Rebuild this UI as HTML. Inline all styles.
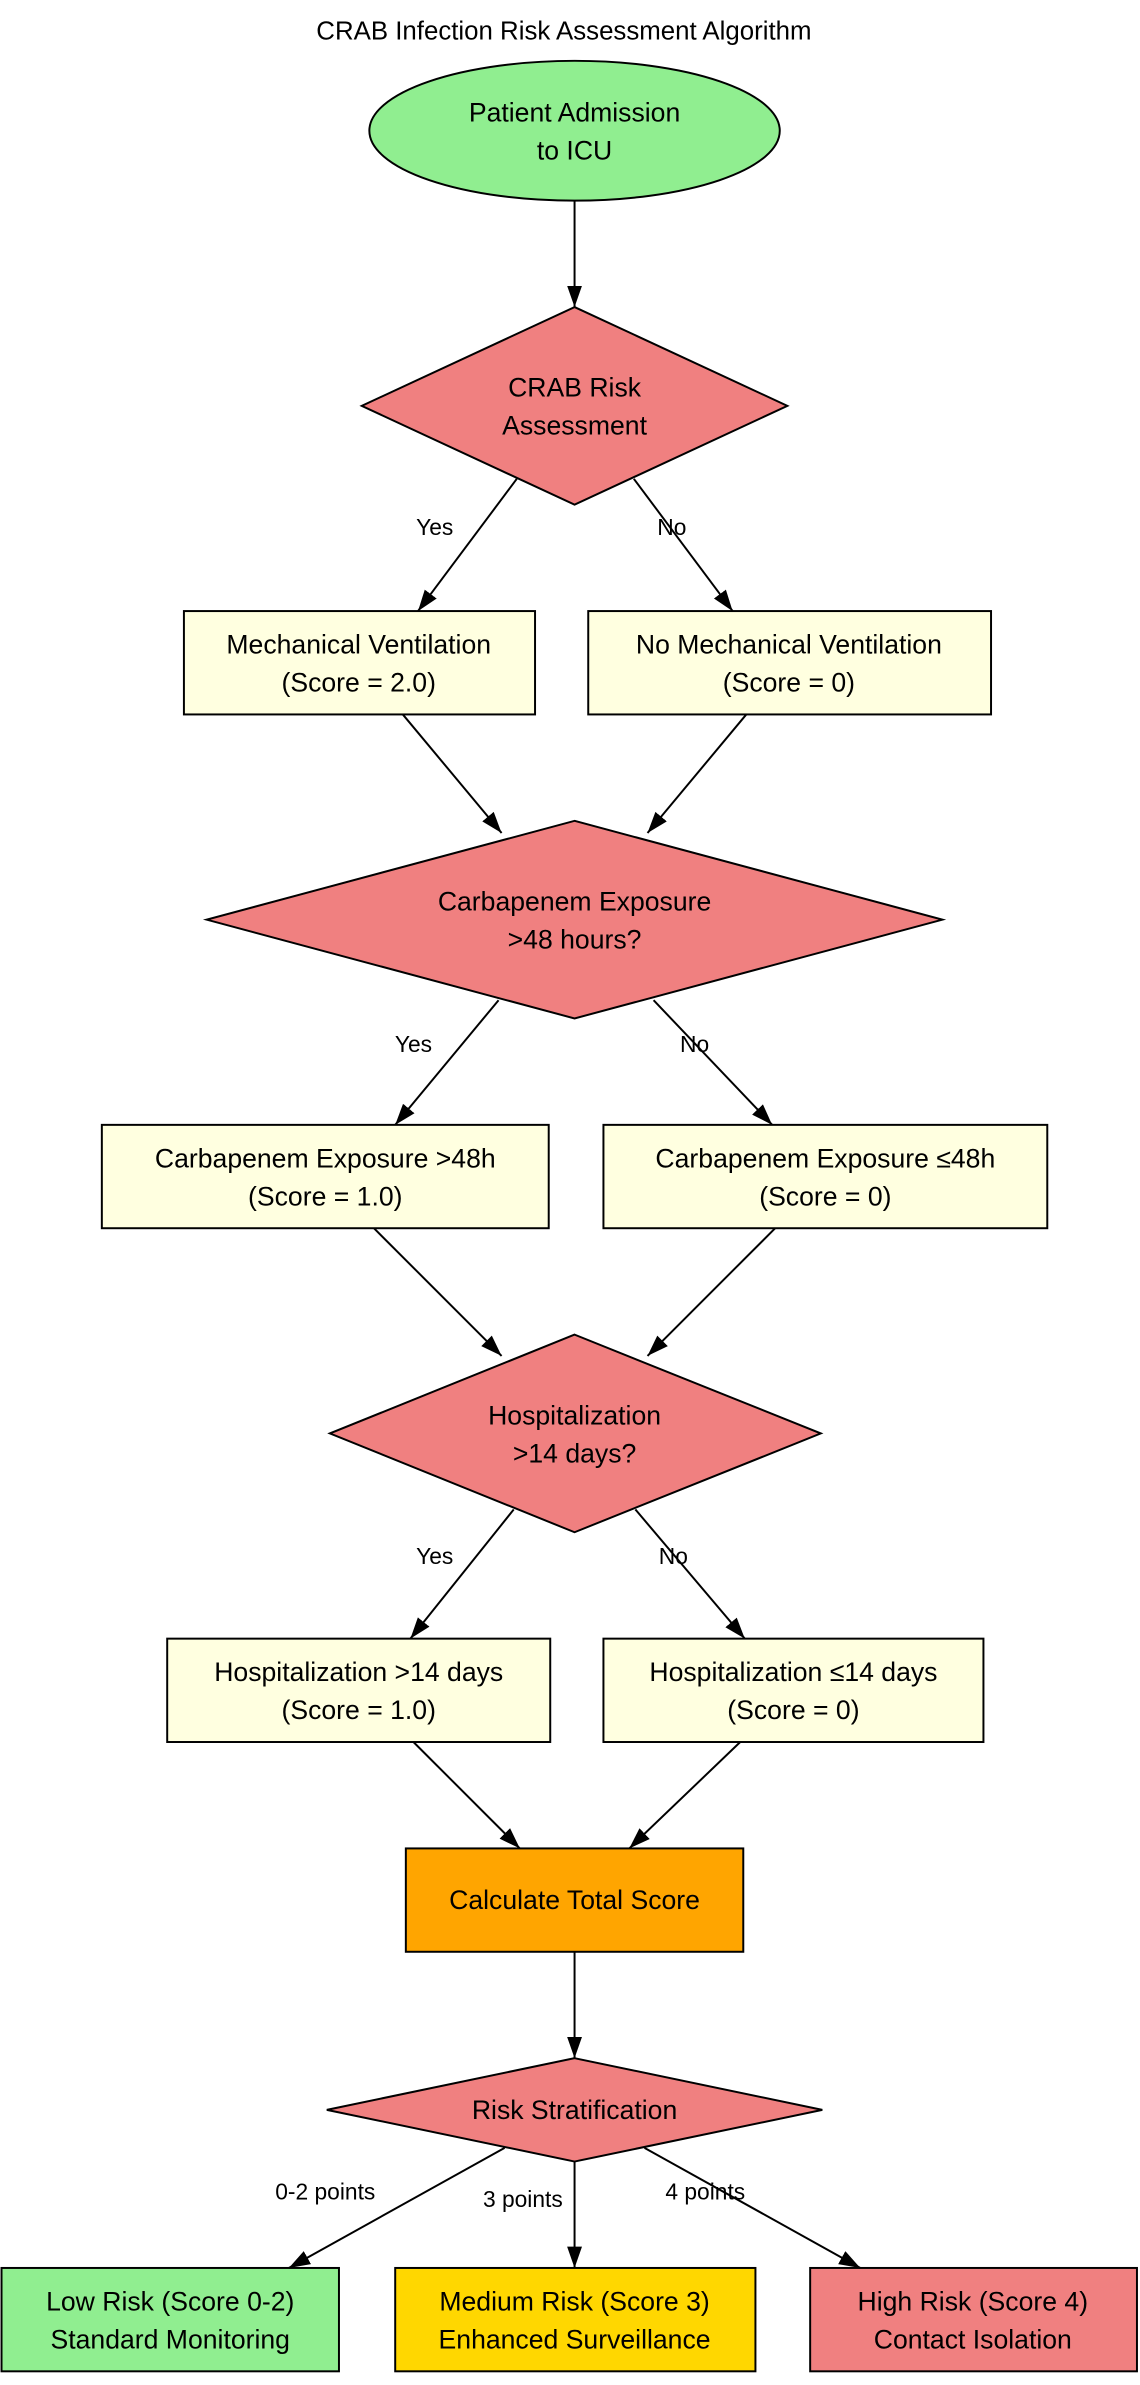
<!DOCTYPE html>
<html><head><meta charset="utf-8"><style>html,body{margin:0;padding:0;background:#fff}svg{display:block}text{font-family:"Liberation Sans",Arial,sans-serif;fill:#000}</style></head>
<body>
<svg width="1140" height="2385" viewBox="0 0 750 1569" preserveAspectRatio="none" xmlns="http://www.w3.org/2000/svg">
<defs><marker id="a" viewBox="0 0 10 10" refX="10" refY="5" markerWidth="7" markerHeight="7" markerUnits="userSpaceOnUse" orient="auto"><path d="M0,0L10,5L0,10z" fill="#000"/></marker>
<marker id="b" viewBox="0 0 10 10" refX="10" refY="5" markerWidth="14" markerHeight="14" markerUnits="userSpaceOnUse" orient="auto"><path d="M0,1.5L10,5L0,8.5z" fill="#000"/></marker></defs>
<text x="371" y="26" font-size="17" text-anchor="middle">CRAB Infection Risk Assessment Algorithm</text>
<g stroke="#000" stroke-width="1.3">
<ellipse cx="378" cy="86" rx="135" ry="46" fill="#90ee90"/>
<polygon points="378,202 518,267 378,332 238,267" fill="#f08080"/>
<rect x="121" y="402" width="231" height="68" fill="#ffffe0"/>
<rect x="387" y="402" width="265" height="68" fill="#ffffe0"/>
<polygon points="378,540 620,605 378,670 136,605" fill="#f08080"/>
<rect x="67" y="740" width="294" height="68" fill="#ffffe0"/>
<rect x="397" y="740" width="292" height="68" fill="#ffffe0"/>
<polygon points="378,878 540,943 378,1008 217,943" fill="#f08080"/>
<rect x="110" y="1078" width="252" height="68" fill="#ffffe0"/>
<rect x="397" y="1078" width="250" height="68" fill="#ffffe0"/>
<rect x="267" y="1216" width="222" height="68" fill="#ffa500"/>
<polygon points="378,1354 541,1388 378,1422 215,1388" fill="#f08080"/>
<rect x="1" y="1492" width="222" height="68" fill="#90ee90"/>
<rect x="260" y="1492" width="237" height="68" fill="#ffd700"/>
<rect x="533" y="1492" width="215" height="68" fill="#f08080"/>
<g marker-end="url(#b)" fill="none">
<path d="M378,132L378,202"/>
<path d="M340,315L275,402"/><path d="M417,315L482,402"/>
<path d="M265,470L330,548"/><path d="M491,470L426,548"/>
<path d="M328,658L260,740"/><path d="M430,658L508,740"/>
<path d="M246,808L330,892"/><path d="M510,808L426,892"/>
<path d="M338,993L270,1078"/><path d="M418,993L490,1078"/>
<path d="M272,1146L342,1216"/><path d="M487,1146L414,1216"/>
<path d="M378,1284L378,1354"/>
<path d="M332,1413L190,1492"/><path d="M378,1422L378,1492"/><path d="M424,1413L566,1492"/>
</g></g>
<g font-size="17.5" text-anchor="middle">
<text x="378" y="80">Patient Admission</text><text x="378" y="105">to ICU</text>
<text x="378" y="261">CRAB Risk</text><text x="378" y="286">Assessment</text>
<text x="236" y="430">Mechanical Ventilation</text><text x="236" y="455">(Score = 2.0)</text>
<text x="519" y="430">No Mechanical Ventilation</text><text x="519" y="455">(Score = 0)</text>
<text x="378" y="599">Carbapenem Exposure</text><text x="378" y="624">&gt;48 hours?</text>
<text x="214" y="768">Carbapenem Exposure &gt;48h</text><text x="214" y="793">(Score = 1.0)</text>
<text x="543" y="768">Carbapenem Exposure ≤48h</text><text x="543" y="793">(Score = 0)</text>
<text x="378" y="937">Hospitalization</text><text x="378" y="962">&gt;14 days?</text>
<text x="236" y="1106">Hospitalization &gt;14 days</text><text x="236" y="1131">(Score = 1.0)</text>
<text x="522" y="1106">Hospitalization ≤14 days</text><text x="522" y="1131">(Score = 0)</text>
<text x="378" y="1256">Calculate Total Score</text>
<text x="378" y="1394">Risk Stratification</text>
<text x="112" y="1520">Low Risk (Score 0-2)</text><text x="112" y="1545">Standard Monitoring</text>
<text x="378" y="1520">Medium Risk (Score 3)</text><text x="378" y="1545">Enhanced Surveillance</text>
<text x="640" y="1520">High Risk (Score 4)</text><text x="640" y="1545">Contact Isolation</text>
</g>
<g font-size="15" text-anchor="middle">
<text x="286" y="352">Yes</text><text x="442" y="352">No</text>
<text x="272" y="692">Yes</text><text x="457" y="692">No</text>
<text x="286" y="1029">Yes</text><text x="443" y="1029">No</text>
<text x="214" y="1447">0-2 points</text><text x="344" y="1452">3 points</text><text x="464" y="1447">4 points</text>
</g>
</svg>
</body></html>
